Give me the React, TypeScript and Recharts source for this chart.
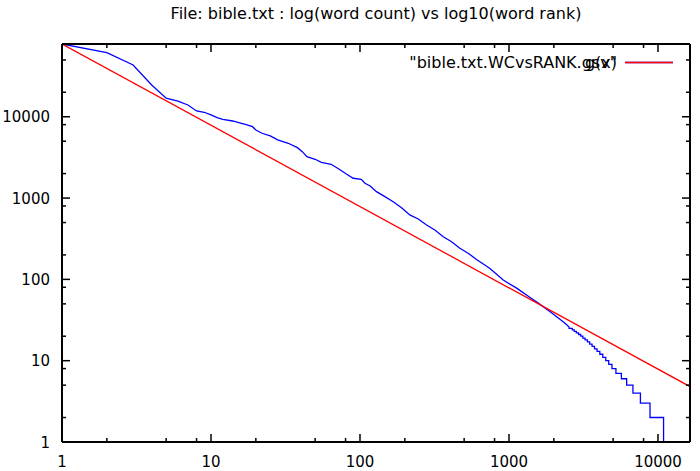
import React from "react";
import { LineChart, Line, XAxis, YAxis } from "recharts";

// ---- data ----
const headRanks = [
  1, 2, 3, 4, 5, 6, 7, 8, 9, 10,
  11, 12, 14, 16, 17, 19, 20, 22, 25, 28,
  33, 38, 41, 44, 50, 55, 64, 73, 81, 90,
  102, 108, 117, 129, 147, 167, 190, 216, 246, 280,
  318, 362, 412, 468, 532, 605, 688, 745, 915, 1125,
  1385, 1573, 1890, 2320, 2420, 2530,
];
const headCounts = [
  78500, 61400, 43350, 24600, 16900, 15600, 13970, 11790, 11360, 10520,
  9750, 9310, 8870, 8310, 8080, 7550, 6880, 6270, 5810, 5190,
  4720, 4170, 3720, 3230, 3000, 2755, 2604, 2250, 1980, 1753,
  1703, 1521, 1409, 1199, 1041, 903, 762, 620, 553, 467,
  405, 335, 291, 241, 210, 176, 150, 136, 98, 78,
  60, 51, 40, 30, 28, 26,
];
// tail: each count level and the last rank holding that count
const tailCounts = [25, 24, 23, 22, 21, 20, 19, 18, 17, 16, 15, 14, 13, 12, 11, 10, 9, 8, 7, 6, 5, 4, 3, 2, 1];
const tailEndRanks = [
  2660, 2740, 2830, 2930, 3030, 3130, 3240, 3360, 3480, 3610, 3750, 3900, 4070,
  4260, 4460, 4670, 4910, 5220, 5680, 6160, 6790, 7620, 8840, 10900, 16400,
];
// g(x) fit line endpoints
const gRanks = [1, 16400];
const gCounts = [78500, 4.8];

const xTicks = [1, 2, 5, 8, 10, 20, 50, 80, 100, 200, 500, 800, 1000, 2000, 5000, 8000, 10000];
const yTicks = [1, 2, 5, 8, 10, 20, 50, 80, 100, 200, 500, 800, 1000, 2000, 5000, 8000, 10000, 20000, 50000];

const titleText = "File: bible.txt : log(word count) vs log10(word rank)";
const seriesName = '"bible.txt.WCvsRANK.gsv"';
const fitName = "g(x)";

// ---- build tables ----
const wcData: { rank: number; count: number }[] = headRanks.map((r, i) => ({ rank: r, count: headCounts[i] }));
{
  let prevEnd = headRanks[headRanks.length - 1];
  tailCounts.forEach((c, i) => {
    wcData.push({ rank: prevEnd + 1, count: c });
    wcData.push({ rank: tailEndRanks[i], count: c });
    prevEnd = tailEndRanks[i];
  });
}
const gData = gRanks.map((r, i) => ({ rank: r, count: gCounts[i] }));

const FONT = "'DejaVu Sans', sans-serif";
const FS = 15;
const FS_T = 16;
const MAJ = 8;
const MIN = 4;

const isMajor = (v: number) => Math.abs(Math.log10(v) - Math.round(Math.log10(v))) < 1e-9;

const BottomTick = (p: any) => {
  const { x, y, payload } = p;
  const v = payload.value;
  const len = isMajor(v) ? MAJ : MIN;
  return (
    <g>
      <line x1={x} y1={y} x2={x} y2={y - len} stroke="#000" strokeWidth={1.5} />
      {isMajor(v) && (
        <text x={x} y={y + 25} textAnchor="middle" fontFamily={FONT} fontSize={FS} fill="#000">
          {String(v)}
        </text>
      )}
    </g>
  );
};
const TopTick = (p: any) => {
  const { x, y, payload } = p;
  const len = isMajor(payload.value) ? MAJ : MIN;
  return <line x1={x} y1={y} x2={x} y2={y + len} stroke="#000" strokeWidth={1.5} />;
};
const LeftTick = (p: any) => {
  const { x, y, payload } = p;
  const v = payload.value;
  const len = isMajor(v) ? MAJ : MIN;
  return (
    <g>
      <line x1={x} y1={y} x2={x + len} y2={y} stroke="#000" strokeWidth={1.5} />
      {isMajor(v) && (
        <text x={x - 12} y={y + 5.5} textAnchor="end" fontFamily={FONT} fontSize={FS} fill="#000">
          {String(v)}
        </text>
      )}
    </g>
  );
};
const RightTick = (p: any) => {
  const { x, y, payload } = p;
  const len = isMajor(payload.value) ? MAJ : MIN;
  return <line x1={x} y1={y} x2={x - len} y2={y} stroke="#000" strokeWidth={1.5} />;
};

const axisLine = { stroke: "#000", strokeWidth: 2 };

export default function App() {
  return (
    <div style={{ position: "absolute", left: 0, top: 0, width: 700, height: 471, background: "#fff" }}>
      <LineChart width={700} height={471} margin={{ top: 43, right: 9, bottom: 28, left: 61 }}>
        <XAxis
          xAxisId="b"
          type="number"
          dataKey="rank"
          scale="log"
          domain={[1, 16400]}
          allowDataOverflow
          ticks={xTicks}
          interval={0}
          height={1}
          tickSize={0}
          tickMargin={0}
          tickLine={false}
          axisLine={axisLine}
          tick={<BottomTick />}
        />
        <XAxis
          xAxisId="t"
          orientation="top"
          type="number"
          dataKey="rank"
          scale="log"
          domain={[1, 16400]}
          allowDataOverflow
          ticks={xTicks}
          interval={0}
          height={1}
          tickSize={0}
          tickMargin={0}
          tickLine={false}
          axisLine={axisLine}
          tick={<TopTick />}
        />
        <YAxis
          yAxisId="l"
          type="number"
          scale="log"
          domain={[1, 78500]}
          allowDataOverflow
          ticks={yTicks}
          interval={0}
          width={1}
          tickSize={0}
          tickMargin={0}
          tickLine={false}
          axisLine={axisLine}
          tick={<LeftTick />}
        />
        <YAxis
          yAxisId="r"
          orientation="right"
          type="number"
          scale="log"
          domain={[1, 78500]}
          allowDataOverflow
          ticks={yTicks}
          interval={0}
          width={1}
          tickSize={0}
          tickMargin={0}
          tickLine={false}
          axisLine={axisLine}
          tick={<RightTick />}
        />
        <Line
          xAxisId="t"
          yAxisId="r"
          data={gData}
          dataKey="count"
          stroke="none"
          dot={false}
          isAnimationActive={false}
        />
        <Line
          xAxisId="b"
          yAxisId="l"
          data={wcData}
          dataKey="count"
          type="linear"
          stroke="#0000ff"
          strokeWidth={1.3}
          dot={false}
          isAnimationActive={false}
        />
        <Line
          xAxisId="b"
          yAxisId="l"
          data={gData}
          dataKey="count"
          type="linear"
          stroke="#ff0000"
          strokeWidth={1.3}
          dot={false}
          isAnimationActive={false}
        />
      </LineChart>
      <svg
        width={700}
        height={471}
        style={{ position: "absolute", left: 0, top: 0, pointerEvents: "none" }}
      >
        <text x={376} y={19} textAnchor="middle" fontFamily={FONT} fontSize={FS_T} fill="#000">
          {titleText}
        </text>
        <text x={617} y={68} textAnchor="end" fontFamily={FONT} fontSize={FS_T} fill="#000">
          {seriesName}
        </text>
        <line x1={625} y1={62.5} x2={673} y2={62.5} stroke="#0000ff" strokeWidth={1.3} />
        <text x={617} y={68} textAnchor="end" fontFamily={FONT} fontSize={FS_T} fill="#000">
          {fitName}
        </text>
        <line x1={625} y1={62.5} x2={673} y2={62.5} stroke="#ff0000" strokeWidth={1.3} />
      </svg>
    </div>
  );
}
